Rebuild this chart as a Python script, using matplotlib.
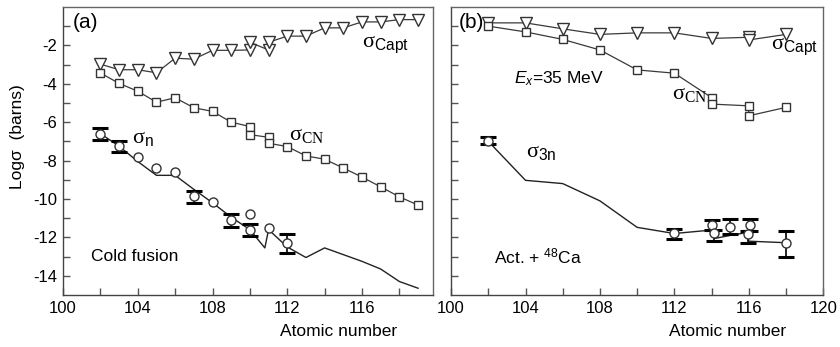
import matplotlib
matplotlib.use("Agg")
import matplotlib.pyplot as plt
from matplotlib.ticker import FixedLocator, FuncFormatter

plt.rcParams['font.family'] = ['Liberation Sans', 'DejaVu Sans']
plt.rcParams['mathtext.fontset'] = 'custom'
plt.rcParams['mathtext.rm'] = 'Liberation Serif'
plt.rcParams['mathtext.sf'] = 'Liberation Sans'
plt.rcParams['mathtext.it'] = 'Liberation Sans:italic'

# ---- panel (a): cold fusion ----
a_capt_z = [102, 103, 104, 105, 106, 107, 108, 109, 110, 110, 111, 111, 112, 113, 114, 115, 116, 117, 118, 119]
a_capt_v = [-2.98, -3.27, -3.27, -3.43, -2.67, -2.72, -2.26, -2.26, -2.24, -1.84, -2.24, -1.84,
            -1.52, -1.52, -1.09, -1.09, -0.78, -0.78, -0.66, -0.66]

a_cn_z = [102, 103, 104, 105, 106, 107, 108, 109, 110, 110, 111, 111, 112, 113, 114, 115, 116, 117, 118, 119]
a_cn_v = [-3.44, -3.98, -4.39, -4.96, -4.73, -5.25, -5.44, -6.0, -6.23, -6.65, -6.79, -7.1,
          -7.27, -7.76, -7.93, -8.39, -8.86, -9.37, -9.89, -10.32]

a_n_z = [102, 103, 104, 105, 106, 107, 108, 109, 110, 110, 111, 112]
a_n_v = [-6.61, -7.25, -7.79, -8.37, -8.6, -9.86, -10.16, -11.1, -10.79, -11.62, -11.53, -12.31]

a_err_z = [102, 103, 107, 109, 110, 112]
a_err_lo = [-6.92, -7.56, -10.19, -11.45, -11.92, -12.8]
a_err_hi = [-6.32, -7.0, -9.59, -10.79, -11.31, -11.83]

a_th_z = [102, 103, 104, 105, 106, 107, 108, 109, 110, 110.8, 111, 112, 113, 114, 115, 116, 117, 118, 119]
a_th_v = [-6.6, -7.25, -8.05, -8.77, -8.77, -9.5, -10.2, -10.95, -11.6, -12.55, -11.6, -12.5,
          -13.05, -12.55, -12.9, -13.25, -13.65, -14.3, -14.65]

# ---- panel (b): actinides + 48Ca ----
b_capt_z = [102, 104, 106, 108, 110, 112, 114, 116, 116, 118]
b_capt_v = [-0.83, -0.83, -1.14, -1.43, -1.35, -1.35, -1.64, -1.58, -1.72, -1.43]

b_cn_z = [102, 104, 106, 108, 110, 112, 114, 114, 116, 116, 118]
b_cn_v = [-1.0, -1.3, -1.69, -2.24, -3.28, -3.45, -4.72, -5.06, -5.15, -5.67, -5.23]

b_3n_z = [102, 112, 114, 114.15, 115, 116.05, 115.95, 118]
b_3n_v = [-6.96, -11.79, -11.36, -11.76, -11.45, -11.36, -11.83, -12.28]
b_3n_lo = [-7.13, -12.09, -11.6, -12.18, -11.83, -11.66, -12.31, -13.0]
b_3n_hi = [-6.75, -11.57, -11.1, -11.6, -11.07, -11.07, -11.66, -11.66]

b_th_z = [102, 104, 106, 108, 110, 112, 114, 114.2, 115, 115.9, 116, 118]
b_th_v = [-7.0, -9.03, -9.2, -10.1, -11.48, -11.8, -11.62, -12.05, -11.9, -11.75, -12.2, -12.28]

LC = '#3a3a3a'
MK = dict(mfc='white', mec='#333333', mew=1.0)

fig = plt.figure(figsize=(8.4, 3.47), dpi=100)
axa = fig.add_axes([0.075, 0.15, 0.4405, 0.83])
axb = fig.add_axes([0.537, 0.15, 0.443, 0.83])


def errs(ax, z, lo, hi):
    # bars drawn from the cap positions themselves
    mid = [(l + h) / 2 for l, h in zip(lo, hi)]
    half = [(h - l) / 2 for l, h in zip(lo, hi)]
    ax.errorbar(z, mid, yerr=half, fmt='none', ecolor='black',
                elinewidth=1.2, capsize=6, capthick=2.2, zorder=4)


# panel a
axa.plot(a_capt_z, a_capt_v, '-', color=LC, lw=0.9, marker='v', ms=8, **MK, zorder=3)
axa.plot(a_cn_z, a_cn_v, '-', color=LC, lw=0.9, marker='s', ms=5.5, **MK, zorder=3)
axa.plot(a_th_z, a_th_v, '-', color='#222222', lw=1.0, zorder=2)
errs(axa, a_err_z, a_err_lo, a_err_hi)
axa.plot(a_n_z, a_n_v, 'o', ms=6.5, **MK, zorder=5)

# panel b
axb.plot(b_capt_z, b_capt_v, '-', color=LC, lw=0.9, marker='v', ms=8, **MK, zorder=3)
axb.plot(b_cn_z, b_cn_v, '-', color=LC, lw=0.9, marker='s', ms=5.5, **MK, zorder=3)
axb.plot(b_th_z, b_th_v, '-', color='#222222', lw=1.0, zorder=2)
errs(axb, b_3n_z, b_3n_lo, b_3n_hi)
axb.plot(b_3n_z, b_3n_v, 'o', ms=6.5, **MK, zorder=5)

for ax, xmax in ((axa, 119.8), (axb, 120)):
    ax.set_xlim(100, xmax)
    ax.set_ylim(-15, 0)
    ax.xaxis.set_major_locator(FixedLocator(list(range(100, 121, 2))))
    ax.xaxis.set_major_formatter(FuncFormatter(lambda x, p: '%d' % x if int(round(x)) % 4 == 0 else ''))
    ax.yaxis.set_major_locator(FixedLocator(list(range(-14, 0))))
    ax.tick_params(direction='in', length=5, width=1, color='#555555', labelsize=12, pad=4)
    for s in ('top', 'right'):
        ax.spines[s].set_color('#666666')
    for s in ('left', 'bottom'):
        ax.spines[s].set_color('#444444')
    for s in ax.spines.values():
        s.set_linewidth(1.0)
    ax.set_xlabel('Atomic number', fontsize=12.5)

axa.yaxis.set_major_formatter(FuncFormatter(lambda y, p: '%d' % y if int(round(y)) % 2 == 0 else ''))
axb.yaxis.set_major_formatter(FuncFormatter(lambda y, p: ''))
axa.set_ylabel('Logσ  (barns)', fontsize=12.5)
axa.yaxis.set_label_coords(-0.103, 0.55)
axa.xaxis.set_label_coords(0.745, -0.1)
axb.xaxis.set_label_coords(0.742, -0.1)

SER = 'Liberation Serif'

# annotations panel a
axa.text(100.5, -0.83, '(a)', fontsize=15, va='center')
axa.text(116.0, -2.0, r'σ$_{\mathsf{Capt}}$', fontsize=16, va='center', family=SER)
axa.text(112.1, -6.75, r'σ$_{\mathrm{CN}}$', fontsize=16, va='center', family=SER)
axa.text(103.7, -6.9, r'σ$_{\mathsf{n}}$', fontsize=16, va='center', family=SER)
axa.text(101.5, -13.0, 'Cold fusion', fontsize=12.5, va='center')

# annotations panel b
axb.text(100.4, -0.83, '(b)', fontsize=15, va='center')
axb.text(117.2, -2.1, r'σ$_{\mathsf{Capt}}$', fontsize=16, va='center', family=SER)
axb.text(103.4, -3.76, r'$E_x$=35 MeV', fontsize=12.5, va='center')
axb.text(111.9, -4.6, r'σ$_{\mathrm{CN}}$', fontsize=16, va='center', family=SER)
axb.text(104.0, -7.6, r'σ$_{\mathsf{3n}}$', fontsize=16, va='center', family=SER)
axb.text(102.3, -13.0, r'Act. + $^{\mathsf{48}}$Ca', fontsize=12.5, va='center')

fig.savefig('out.png', dpi=100)
